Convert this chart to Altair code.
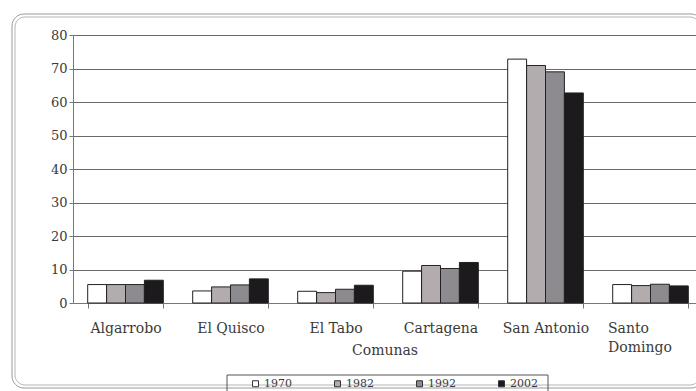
import altair as alt
import pandas as pd

# Población comunal (%) por censo
comunas = ["Algarrobo", "El Quisco", "El Tabo", "Cartagena", "San Antonio", "Santo Domingo"]
years = ["1970", "1982", "1992", "2002"]
v1970 = [5.5, 3.6, 3.5, 9.5, 72.8, 5.5]
v1982 = [5.5, 4.8, 3.1, 11.2, 70.9, 5.2]
v1992 = [5.5, 5.4, 4.1, 10.3, 69.0, 5.6]
v2002 = [6.8, 7.2, 5.3, 12.1, 62.7, 5.1]
bar_colors = ["#ffffff", "#b3acaf", "#8e8b90", "#1d1a1d"]
y_ticks = [0, 10, 20, 30, 40, 50, 60, 70, 80]

series = dict(zip(years, [v1970, v1982, v1992, v2002]))
rows = [
    {"comuna": c, "year": y, "value": vals[i]}
    for y, vals in series.items()
    for i, c in enumerate(comunas)
]
df = pd.DataFrame(rows)

SERIF = "DejaVu Serif"
W, H = 623, 268
X_SPAN = 630  # category axis runs slightly past the visible right edge

one = pd.DataFrame({"k": [0]})

# rounded double frame around the whole figure
frame_outer = alt.Chart(one).mark_rect(
    fillOpacity=0, stroke="#9a9a9a", strokeWidth=1, cornerRadius=12
).encode(x=alt.value(-61), x2=alt.value(W + 7), y=alt.value(-21), y2=alt.value(353))
frame_inner = alt.Chart(one).mark_rect(
    fillOpacity=0, stroke="#b5b5b5", strokeWidth=1, cornerRadius=10
).encode(x=alt.value(-58), x2=alt.value(W + 4), y=alt.value(-18), y2=alt.value(350))

# box around the legend row
legend_box = alt.Chart(one).mark_rect(
    fillOpacity=0, stroke="#555555", strokeWidth=1
).encode(x=alt.value(154), x2=alt.value(475), y=alt.value(340), y2=alt.value(362))

bars = alt.Chart(df).mark_bar(stroke="#222222", strokeWidth=1).encode(
    x=alt.X(
        "comuna:N",
        sort=comunas,
        scale=alt.Scale(range=[0, X_SPAN], paddingInner=0.28, paddingOuter=0.14),
        axis=alt.Axis(
            title="Comunas",
            titleFont=SERIF,
            titleFontSize=14,
            titleFontWeight="normal",
            titleColor="#3a3a3a",
            titleBaseline="middle",
            titleY=47,
            titleX=W / 2,
            labelFont=SERIF,
            labelFontSize=14,
            labelColor="#3a3a3a",
            labelAngle=0,
            labelPadding=13,
            labelLineHeight=19,
            labelOverlap=False,
            labelExpr="datum.label == 'Santo Domingo' ? ['Santo', 'Domingo'] : datum.label",
            labelAlign={"condition": {"test": "datum.value == 'Santo Domingo'", "value": "left"}, "value": "center"},
            labelOffset={"condition": {"test": "datum.value == 'Santo Domingo'", "value": -43}, "value": 0},
            tickBand="extent",
            tickSize=5,
            tickColor="#777777",
            domainColor="#777777",
            grid=False,
        ),
    ),
    xOffset=alt.XOffset("year:N", sort=years, scale=alt.Scale(paddingInner=0, paddingOuter=0)),
    y=alt.Y(
        "value:Q",
        scale=alt.Scale(domain=[0, 80], nice=False),
        axis=alt.Axis(
            title=None,
            values=y_ticks,
            labelFont=SERIF,
            labelFontSize=13,
            labelColor="#3a3a3a",
            labelPadding=2,
            tickSize=4,
            tickColor="#777777",
            domainColor="#777777",
            grid=True,
            gridColor="#6a6a6a",
            gridWidth=1,
        ),
    ),
    color=alt.Color(
        "year:N",
        sort=years,
        scale=alt.Scale(domain=years, range=bar_colors),
        legend=alt.Legend(
            title=None,
            orient="none",
            legendX=177,
            legendY=343,
            direction="horizontal",
            columns=4,
            columnPadding=40,
            padding=0,
            symbolType="square",
            symbolSize=36,
            symbolStrokeColor="#333333",
            symbolStrokeWidth=1,
            labelFont=SERIF,
            labelFontSize=11,
            labelColor="#3a3a3a",
            labelOffset=3,
        ),
    ),
)

chart = alt.layer(frame_outer, frame_inner, legend_box, bars).properties(
    width=W,
    height=H,
    autosize=alt.AutoSizeParams(type="none"),
    padding={"left": 73, "top": 35, "right": 0, "bottom": 88},
    background="white",
).configure_view(stroke=None)

chart.save("out.html", embed_options={"renderer": "svg", "actions": False})
